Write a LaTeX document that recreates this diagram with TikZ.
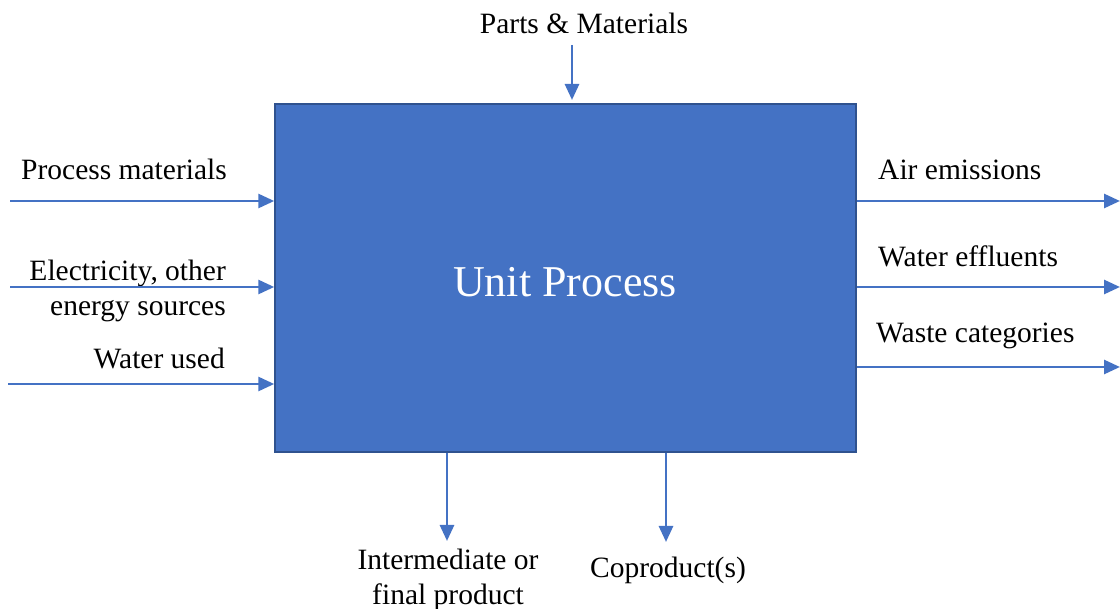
\documentclass[tikz,border=0pt]{standalone}
\usepackage{fontspec}
\setmainfont{Liberation Serif}
\usetikzlibrary{arrows.meta}
\definecolor{boxblue}{HTML}{4472C4}
\definecolor{boxedge}{HTML}{2F528F}
\tikzset{
  flow/.style={draw=boxblue, line width=2.8pt, -{Triangle[length=16pt,width=14pt]}},
  lbl/.style={inner sep=0pt, font=\fontsize{29.5}{35}\selectfont, align=center},
  lblr/.style={lbl, anchor=east, align=right},
  lbll/.style={lbl, anchor=west, align=left},
}
\begin{document}
\begin{tikzpicture}[x=1pt,y=-1pt]
\useasboundingbox (0,0) rectangle (1120,609);
\node[draw=boxedge, line width=1.5pt, fill=boxblue, minimum width=581pt, minimum height=348pt,
      inner sep=0pt] (up) at (565.5,278) {};
\node[text=white, font=\fontsize{44}{50}\selectfont, inner sep=0pt] (upl) at (565,282) {Unit Process};
% top
\node[lbl] (parts) at (584,23) {Parts \& Materials};
\coordinate (ptop) at (572,45);
\coordinate (pend) at (572,100);
\draw[flow] (ptop) -- (pend);
% left inputs
\node[lblr] (pm) at (227,169) {Process materials};
\node[lblr] (el) at (226,291) {Electricity, other\\energy sources};
\node[lblr] (wu) at (225,358) {Water used};
\coordinate (l1) at (10,201);
\coordinate (l2) at (10,287);
\coordinate (l3) at (8,384);
\draw[flow] (l1) -- (l1 -| up.west);
\draw[flow] (l2) -- (l2 -| up.west);
\draw[flow] (l3) -- (l3 -| up.west);
% right outputs
\node[lbll] (ae) at (878,170) {Air emissions};
\node[lbll] (we) at (878,256) {Water effluents};
\node[lbll] (wc) at (876,336) {Waste categories};
\coordinate (r1) at (1120,201);
\coordinate (r2) at (1120,287);
\coordinate (r3) at (1120,367);
\draw[flow] (r1 -| up.east) -- (r1);
\draw[flow] (r2 -| up.east) -- (r2);
\draw[flow] (r3 -| up.east) -- (r3);
% bottom outputs
\coordinate (b1) at (447,541);
\coordinate (b2) at (666,542);
\draw[flow] (b1 |- up.south) -- (b1);
\draw[flow] (b2 |- up.south) -- (b2);
\node[lbl] (ip) at (448,580) {Intermediate or\\final product};
\node[lbl] (cp) at (668,570) {Coproduct(s)};
\end{tikzpicture}
\end{document}
